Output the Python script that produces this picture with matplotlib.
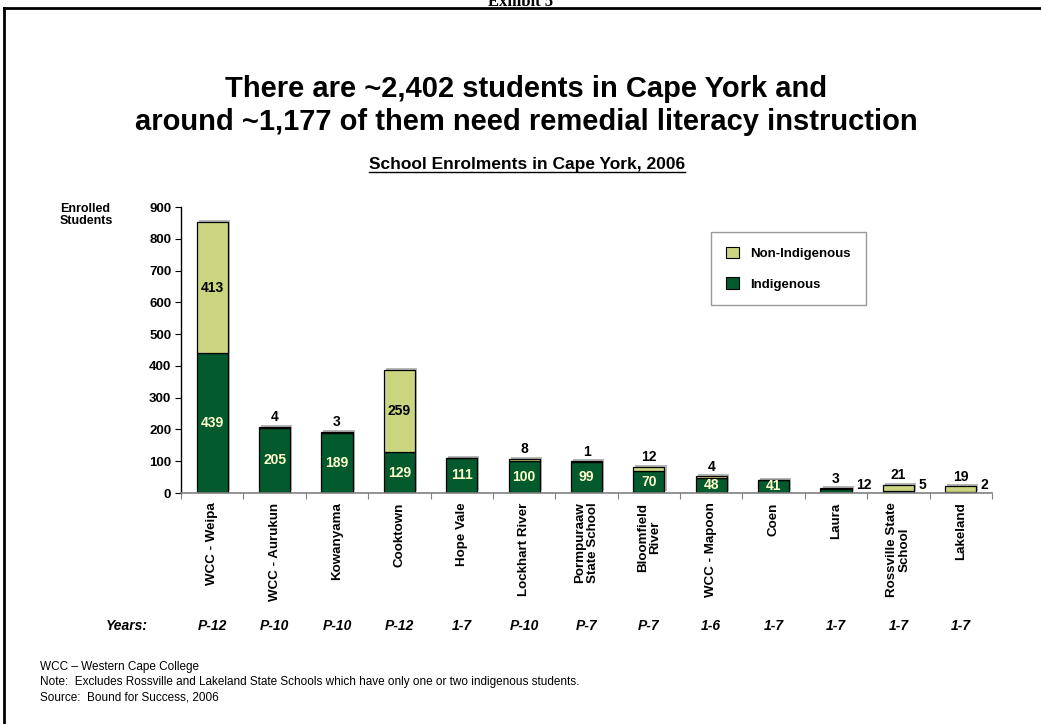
import matplotlib.pyplot as plt
import matplotlib.patheffects as pe
from matplotlib.patches import Patch
from matplotlib.lines import Line2D
import numpy as np

schools = ["WCC - Weipa", "WCC - Aurukun", "Kowanyama", "Cooktown", "Hope Vale",
           "Lockhart River", "Pormpuraaw\nState School", "Bloomfield\nRiver",
           "WCC - Mapoon", "Coen", "Laura", "Rossville State\nSchool", "Lakeland"]
indigenous = [439, 205, 189, 129, 111, 100, 99, 70, 48, 41, 12, 5, 2]
non_indigenous = [413, 4, 3, 259, 0, 8, 1, 12, 4, 0, 3, 21, 19]
years = ["P-12", "P-10", "P-10", "P-12", "1-7", "P-10", "P-7", "P-7", "1-6",
         "1-7", "1-7", "1-7", "1-7"]

DARK = "#035a2c"
LIGHT = "#cbd47e"
W, H = 1041, 724

plt.rcParams['font.family'] = ['Liberation Sans', 'DejaVu Sans']

fig = plt.figure(figsize=(W / 100, H / 100), dpi=100)
ax = fig.add_axes([181 / W, 1 - 493 / H, (992 - 181) / W, (493 - 207) / H])


def px(x, y):
    return x / W, 1 - y / H


x = np.arange(len(schools))
shadow = [pe.SimplePatchShadow(offset=(1.5, 1.5), shadow_rgbFace="#999999", alpha=0.7), pe.Normal()]
ax.bar(x, indigenous, width=0.5, color=DARK, edgecolor="black", linewidth=0.9,
       path_effects=shadow)
ax.bar(x, non_indigenous, width=0.5, bottom=indigenous, color=LIGHT,
       edgecolor="black", linewidth=0.9, path_effects=shadow)

# value labels
for i, (ind, non) in enumerate(zip(indigenous, non_indigenous)):
    if ind >= 40:
        ax.text(i, ind / 2, str(ind), ha="center", va="center", color="#ffffcc",
                fontsize=10, fontweight="bold")
    else:
        ax.text(i + 0.32, 2, str(ind), ha="left", va="bottom", color="black",
                fontsize=10, fontweight="bold")
    if non >= 100:
        ax.text(i, ind + non / 2, str(non), ha="center", va="center", color="black",
                fontsize=10, fontweight="bold")
    elif non > 0:
        ax.text(i, ind + non + 8, str(non), ha="center", va="bottom", color="black",
                fontsize=10, fontweight="bold")

ax.set_xlim(-0.5, len(schools) - 0.5)
ax.set_ylim(0, 900)
ax.set_yticks(range(0, 901, 100))
ax.tick_params(axis="y", direction="out", length=4, labelsize=9.5, pad=3)
for lbl in ax.get_yticklabels():
    lbl.set_fontweight("bold")
ax.set_xticks(np.arange(len(schools) + 1) - 0.5)
ax.set_xticklabels([])
ax.tick_params(axis="x", direction="out", length=4, color="#808080")
for s in ["top", "right"]:
    ax.spines[s].set_visible(False)
ax.spines["bottom"].set_color("#808080")
ax.spines["bottom"].set_linewidth(1.2)
ax.spines["left"].set_linewidth(1.0)

# rotated school names
for i, name in enumerate(schools):
    ax.text(i, -30, name, rotation=90, ha="center", va="top", fontsize=9.6,
            fontweight="bold", linespacing=1.0, multialignment="center")

# year ranges
fig.text(*px(127, 626), "Years:", ha="center", va="center", fontsize=10,
         fontweight="bold", style="italic")
for i, yr in enumerate(years):
    xf = ax.transData.transform((i, 0))[0] / W
    fig.text(xf, 1 - 626 / H, yr, ha="center", va="center", fontsize=10,
             fontweight="bold", style="italic")

fig.text(*px(60, 215), "Enrolled\nStudents", ha="left", va="center", fontsize=9,
         fontweight="bold", linespacing=1.05)

# legend
handles = [Patch(facecolor=LIGHT, edgecolor="black", linewidth=0.8, label="Non-Indigenous"),
           Patch(facecolor=DARK, edgecolor="black", linewidth=0.8, label="Indigenous")]
leg = fig.legend(handles=handles, loc="upper left", bbox_to_anchor=px(711, 232),
                 frameon=True, fancybox=False, edgecolor="#808080",
                 prop={"weight": "bold", "size": 9.5}, handlelength=1.0,
                 handleheight=1.0, labelspacing=1.3, borderpad=1.1,
                 handletextpad=0.9, borderaxespad=0)
leg.get_frame().set_linewidth(1.0)

# titles
fig.text(*px(526, 89), "There are ~2,402 students in Cape York and", ha="center",
         va="center", fontsize=21, fontweight="bold")
fig.text(*px(526, 122), "around ~1,177 of them need remedial literacy instruction",
         ha="center", va="center", fontsize=21, fontweight="bold")
sub = fig.text(*px(527, 164), "School Enrolments in Cape York, 2006", ha="center",
               va="center", fontsize=12.5, fontweight="bold")
fig.canvas.draw()
bb = sub.get_window_extent()
fig.add_artist(Line2D([bb.x0 / W, bb.x1 / W], [bb.y0 / H - 0.001, bb.y0 / H - 0.001],
                      color="black", linewidth=1.0))

# header and outer frame
fig.text(*px(521, 2), "Exhibit 5", ha="center", va="center", fontsize=12,
         fontweight="bold", family="Liberation Serif")
fig.add_artist(Line2D([4 / W, 1.0], [1 - 8 / H, 1 - 8 / H], color="black", linewidth=2))
fig.add_artist(Line2D([4 / W, 4 / W], [0, 1 - 8 / H], color="black", linewidth=2))

# footnotes
notes = ["WCC \u2013 Western Cape College",
         "Note:  Excludes Rossville and Lakeland State Schools which have only one or two indigenous students.",
         "Source:  Bound for Success, 2006"]
for k, t in enumerate(notes):
    fig.text(*px(40, 667 + 15.5 * k), t, ha="left", va="center", fontsize=8.5,
             family=["Liberation Sans Narrow", "Liberation Sans"])

fig.savefig("out.png", dpi=100)
